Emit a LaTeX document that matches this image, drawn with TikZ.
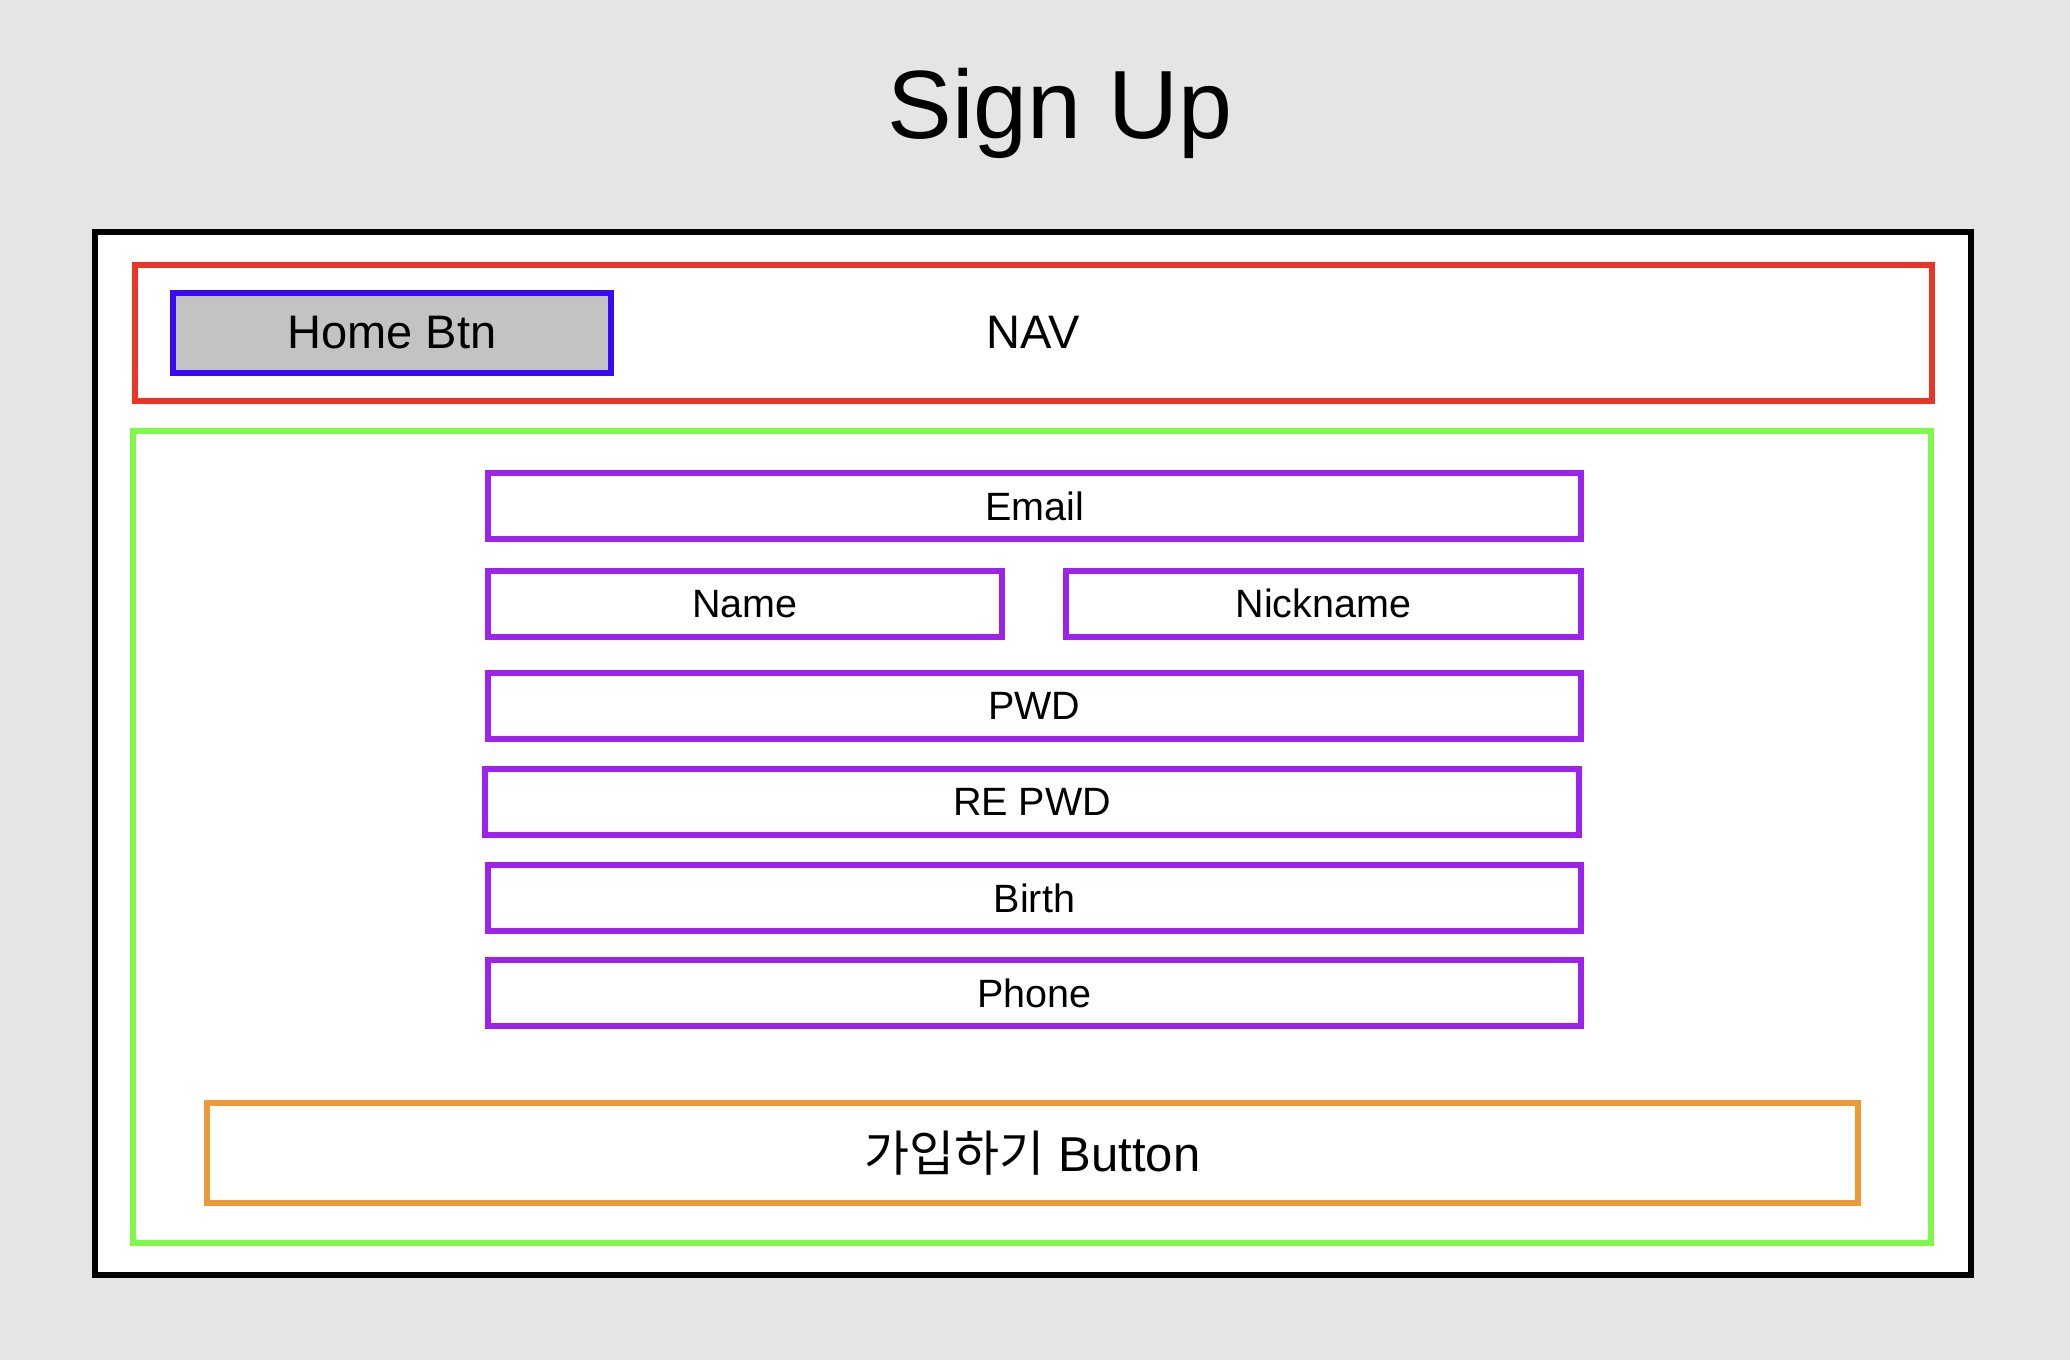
\documentclass[tikz,border=0pt]{standalone}
\usepackage{fontspec}
\setmainfont{Liberation Sans}
\newfontfamily\krfont{Noto Sans CJK KR}
\definecolor{pagegray}{HTML}{E5E5E5}
\definecolor{navred}{HTML}{E83526}
\definecolor{homeblue}{HTML}{3A0AF5}
\definecolor{btngray}{HTML}{C3C3C3}
\definecolor{maingreen}{HTML}{80F84A}
\definecolor{fieldpurple}{HTML}{9D22EC}
\definecolor{submitorange}{HTML}{EC9A36}
\begin{document}
\begin{tikzpicture}[x=1pt,y=-1pt,
  box/.style={draw,line width=6pt,inner sep=0pt},
  field/.style={box,draw=fieldpurple,minimum height=65.5pt,font=\fontsize{39.5}{47}\selectfont}]
\useasboundingbox[fill=pagegray] (0,0) rectangle (2070,1360);
\node[anchor=base,font=\fontsize{97}{116}\selectfont] (title) at (1060,138) {Sign Up};
% page frame
\node[box,fill=white,minimum width=1876pt,minimum height=1043pt] (frame) at (1033,753.5) {};
\node[box,draw=navred,minimum width=1797pt,minimum height=135.5pt,font=\fontsize{47}{56}\selectfont] (nav) at (1033.5,332.75) {NAV};
\node[box,draw=homeblue,fill=btngray,minimum width=437.6pt,minimum height=80pt,font=\fontsize{47}{56}\selectfont] (home) at (391.8,333) {Home Btn};
% form
\node[box,draw=maingreen,minimum width=1798pt,minimum height=812pt] (main) at (1032,837) {};
\node[field,minimum width=1093.3pt] (email) at (1034.4,505.9) {Email};
\node[field,minimum width=514.6pt] (name) at (745,603.75) {Name};
\node[field,minimum width=515pt] (nickname) at (1323.5,603.75) {Nickname};
\node[field,minimum width=1093.3pt] (pwd) at (1034.4,705.85) {PWD};
\node[field,minimum width=1094pt] (repwd) at (1032,801.85) {RE PWD};
\node[field,minimum width=1093.3pt] (birth) at (1034.4,898) {Birth};
\node[field,minimum width=1093.3pt] (phone) at (1034.4,993) {Phone};
\node[box,draw=submitorange,minimum width=1651pt,minimum height=100pt,font=\fontsize{49}{59}\selectfont] (submit) at (1032.5,1153) {{\krfont 가입하기} Button};
\end{tikzpicture}
\end{document}
